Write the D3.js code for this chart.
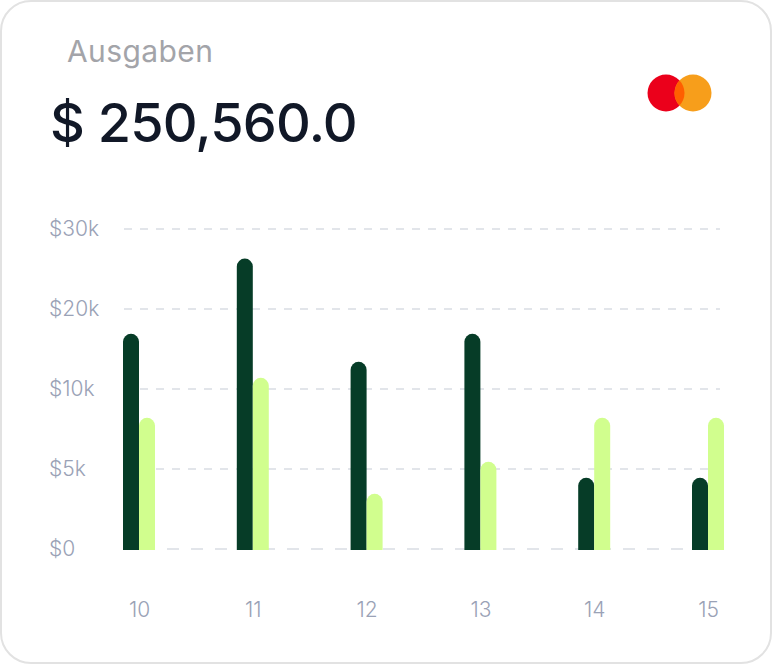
<!DOCTYPE html>
<html>
<head>
<meta charset="utf-8">
<script src="https://cdn.jsdelivr.net/npm/d3@7/dist/d3.min.js"></script>
<style>
  html, body { margin: 0; padding: 0; background: #ffffff; }
  svg { display: block; }
  text { font-family: Inter, "Noto Sans", sans-serif; }
</style>
</head>
<body>
<svg id="chart" width="772" height="664"></svg>
<script>
// ---- data ----
const title = "Ausgaben";
const total = "$ 250,560.0";
const categories = ["10", "11", "12", "13", "14", "15"];
const seriesDark = [16900, 26300, 13400, 16900, 4450, 4450];
const seriesLight = [8200, 11400, 3450, 5450, 8200, 8200];
const tickValues = [0, 5000, 10000, 20000, 30000];
const tickLabels = ["$0", "$5k", "$10k", "$20k", "$30k"];

const W = 772, H = 664;
const svg = d3.select("#chart");

// card
svg.append("rect")
  .attr("x", 1).attr("y", 1).attr("width", W - 2).attr("height", H - 2)
  .attr("rx", 30).attr("ry", 30)
  .attr("fill", "#ffffff").attr("stroke", "#e2e2e2").attr("stroke-width", 2);

// header
svg.append("text").attr("x", 67).attr("y", 62)
  .attr("font-size", 30).attr("letter-spacing", 0.4).attr("fill", "#a3a4a9").text(title);
svg.append("text").attr("x", 50).attr("y", 142)
  .attr("font-size", 54).attr("font-weight", 500).attr("letter-spacing", -0.8)
  .attr("fill", "#111827").text(total);

// mastercard logo
const mc = svg.append("g");
const defs = svg.append("defs");
defs.append("clipPath").attr("id", "redclip")
  .append("circle").attr("cx", 666).attr("cy", 93).attr("r", 18.5);
mc.append("circle").attr("cx", 666).attr("cy", 93).attr("r", 18.5).attr("fill", "#eb001b");
mc.append("circle").attr("cx", 693).attr("cy", 93).attr("r", 18.5).attr("fill", "#f79e1b");
mc.append("circle").attr("cx", 693).attr("cy", 93).attr("r", 18.5).attr("fill", "#ff5f00")
  .attr("clip-path", "url(#redclip)");

// scales
const y = d3.scaleLinear().domain(tickValues).range([549, 469, 389, 309, 229]);
const x = d3.scalePoint().domain(categories).range([139, 708]);
const barW = 16;

// grid
const grid = svg.append("g");
tickValues.forEach((t, i) => {
  const isBase = i === 0;
  grid.append("line")
    .attr("x1", isBase ? 143 : 124).attr("x2", isBase ? 724 : 720)
    .attr("y1", y(t)).attr("y2", y(t))
    .attr("stroke", "#e2e5ea").attr("stroke-width", 2)
    .attr("stroke-dasharray", isBase ? "12,12" : "8,8");
});

// y axis labels
const yAxis = d3.axisLeft(y).tickValues(tickValues)
  .tickFormat((d, i) => tickLabels[i]).tickSize(0).tickPadding(0);
const yg = svg.append("g").attr("transform", "translate(49,0)").call(yAxis);
yg.select(".domain").remove();
yg.selectAll("text").attr("text-anchor", "start").attr("x", 0)
  .attr("font-family", "Inter, sans-serif").attr("font-size", 21)
  .attr("font-weight", 300).attr("fill", "#9aa2b6");

// x axis labels
const xAxis = d3.axisBottom(x).tickSize(0).tickPadding(0);
const xg = svg.append("g").attr("transform", "translate(0,600)").call(xAxis);
xg.select(".domain").remove();
xg.selectAll("text").attr("dy", "0.8em")
  .attr("font-family", "Inter, sans-serif").attr("font-size", 21)
  .attr("font-weight", 300).attr("fill", "#9aa2b6");

// bars with rounded tops
const base = 550;
function barPath(x0, v) {
  const top = y(v), r = barW / 2;
  return `M${x0},${base} L${x0},${top + r} A${r},${r} 0 0 1 ${x0 + barW},${top + r} L${x0 + barW},${base} Z`;
}
const bars = svg.append("g");
categories.forEach((c, i) => {
  const cx = x(c);
  bars.append("path").attr("d", barPath(cx - barW, seriesDark[i])).attr("fill", "#063c27");
  bars.append("path").attr("d", barPath(cx, seriesLight[i])).attr("fill", "#d1fe8e");
});
</script>
</body>
</html>
